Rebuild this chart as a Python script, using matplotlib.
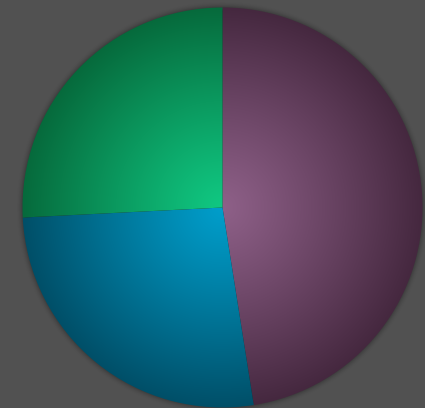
import numpy as np
import matplotlib
matplotlib.use('Agg')
import matplotlib.pyplot as plt
from matplotlib.colors import to_rgb

# Dados do gráfico
categorias = ['Roxo', 'Azul', 'Verde']
valores = [47.5, 26.7, 25.8]
cores_claras = ['#8e6088', '#009ecb', '#10c882']
cores_escuras = ['#45283f', '#004f68', '#066a3c']

fundo = '#515151'

fig = plt.figure(figsize=(4.25, 4.08), dpi=100, facecolor=fundo)
ax = fig.add_axes([0, 0, 1, 1])
ax.set_facecolor(fundo)

# Grade para os gradientes radiais
n = 600
xs = np.linspace(-1.1125, 1.0125, n)
ys = np.linspace(-1.0025, 1.0375, n)
X, Y = np.meshgrid(xs, ys)
R = np.sqrt(X**2 + Y**2)
extent = (xs[0], xs[-1], ys[0], ys[-1])

# Sombra em volta da pizza
sombra = np.zeros((n, n, 4))
alfa = np.clip(1 - (R - 0.985) / 0.05, 0, 1) ** 2 * 0.55
alfa[R < 0.985] = 0.55
sombra[..., 3] = alfa
ax.imshow(sombra, extent=extent, origin='lower', zorder=1, interpolation='bilinear')

fatias, _ = ax.pie(valores, startangle=90, counterclock=False,
                   radius=1, center=(0, 0), frame=True)
ax.set_xlim(-1.1125, 1.0125)
ax.set_ylim(-1.0025, 1.0375)
ax.set_aspect('equal')
ax.axis('off')

t = np.clip(R, 0, 1) ** 1.1
for fatia, c1, c2 in zip(fatias, cores_claras, cores_escuras):
    fatia.set_facecolor('none')
    fatia.set_edgecolor('none')
    a = np.array(to_rgb(c1))
    b = np.array(to_rgb(c2))
    img = a[None, None, :] * (1 - t[..., None]) + b[None, None, :] * t[..., None]
    im = ax.imshow(img, extent=extent, origin='lower', zorder=2, interpolation='bilinear')
    im.set_clip_path(fatia)

fig.savefig('out.png', dpi=100, facecolor=fundo)
